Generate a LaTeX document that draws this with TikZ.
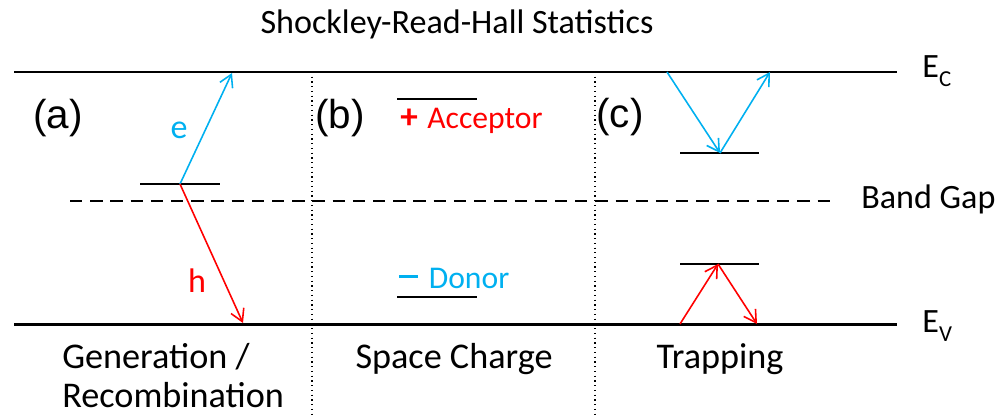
\documentclass[tikz,border=0pt]{standalone}
\usepackage{fontspec}
\setmainfont{Carlito}
\newfontfamily\panelfont{Liberation Sans}
\usetikzlibrary{arrows.meta}
\definecolor{eblue}{RGB}{0,176,240}
\definecolor{hred}{RGB}{255,0,0}
\tikzset{
  band/.style={line width=1.7pt},
  level/.style={line width=1.7pt},
  gapline/.style={line width=1.5pt, dash pattern=on 7pt off 4.5pt},
  divider/.style={line width=0.7pt, dotted},
  carrier/.style={line width=0.9pt, -{Straight Barb[length=2.4mm,width=2.8mm]}},
  lbl/.style={font=\fontsize{20.6}{22}\selectfont, inner sep=0pt},
  side/.style={font=\fontsize{19.4}{21}\selectfont, inner sep=0pt},
  dopant/.style={font=\fontsize{18}{20}\selectfont, inner sep=0pt},
  panel/.style={font=\panelfont\fontsize{23}{26}\selectfont, inner sep=0pt},
}
\newcommand{\sublbl}[2]{#1\raisebox{-5.5pt}{\fontsize{13}{13}\selectfont #2}}

\begin{document}
\begin{tikzpicture}[x=0.02cm,y=-0.02cm]
\useasboundingbox (0,0) rectangle (1000,416);
% bands
\coordinate (ecL) at (14,72);
\coordinate (ecR) at (897,72);
\coordinate (evL) at (14,324);
\coordinate (evR) at (897,324);
\coordinate (gapL) at (70,201);
\coordinate (gapR) at (836,201);
\draw [band] (ecL) -- (ecR);
\draw [band] (evL) -- (evR);
\draw [gapline] (gapL) -- (gapR);
\node [side, anchor=base west] (ec) at (922,77) {\sublbl{E}{C}};
\node [side, anchor=base west] (ev) at (922,332) {\sublbl{E}{V}};
\node [side, anchor=base west] (gap) at (861,208) {Band Gap};
\node [side, anchor=base] (title) at (457,33) {Shockley-Read-Hall Statistics};
% panel borders
\coordinate (divAt) at (312,72);
\coordinate (divAb) at (312,416);
\coordinate (divBt) at (595,72);
\coordinate (divBb) at (595,416);
\draw [divider] (divAt) -- (divAb);
\draw [divider] (divBt) -- (divBb);
% (a) generation / recombination
\node [panel, anchor=base] (pa) at (58,128) {(a)};
\coordinate (trapAl) at (140,184);
\coordinate (trapAr) at (220,184);
\coordinate (trapA) at (180,184);
\coordinate (eTop) at (232,73);
\coordinate (hBot) at (243,323);
\draw [level] (trapAl) -- (trapAr);
\draw [carrier, eblue] (trapA) -- (eTop);
\draw [carrier, hred] (trapA) -- (hBot);
\node [side, anchor=base, text=eblue] (elbl) at (179,138) {e};
\node [side, anchor=base, text=hred] (hlbl) at (197,292) {h};
\node [lbl, anchor=base west] (gen) at (62,368) {Generation /};
\node [lbl, anchor=base west] (rec) at (62,407) {Recombination};
% (b) space charge
\node [panel, anchor=base] (pb) at (340,128) {(b)};
\coordinate (accL) at (397,99);
\coordinate (accR) at (477,99);
\coordinate (donL) at (397,297);
\coordinate (donR) at (477,297);
\draw [level] (accL) -- (accR);
\draw [level] (donL) -- (donR);
\node [dopant, anchor=base west, text=hred] (acc) at (400,128) {{\fontsize{20}{20}\selectfont\textbf{+}}\hspace{0.3em}Acceptor};
\node [dopant, anchor=base west, text=eblue] (don) at (399,288) {\rule[5.5pt]{10.5pt}{1.8pt}\hspace{0.35em}Donor};
\node [lbl, anchor=base] (sc) at (454,368) {Space Charge};
% (c) trapping
\node [panel, anchor=base] (pc) at (620,127) {(c)};
\coordinate (trapCl) at (680,153);
\coordinate (trapCr) at (759,153);
\coordinate (trapC) at (720,153);
\coordinate (trapDl) at (680,264);
\coordinate (trapDr) at (759,264);
\coordinate (trapD) at (718,264);
\coordinate (eIn) at (667,72);
\coordinate (eOut) at (770,72);
\coordinate (hIn) at (680,324);
\coordinate (hOut) at (757,324);
\draw [level] (trapCl) -- (trapCr);
\draw [level] (trapDl) -- (trapDr);
\draw [carrier, eblue] (eIn) -- (trapC);
\draw [carrier, eblue] (trapC) -- (eOut);
\draw [carrier, hred] (hIn) -- (trapD);
\draw [carrier, hred] (trapD) -- (hOut);
\node [lbl, anchor=base] (trp) at (720,368) {Trapping};
\end{tikzpicture}
\end{document}
